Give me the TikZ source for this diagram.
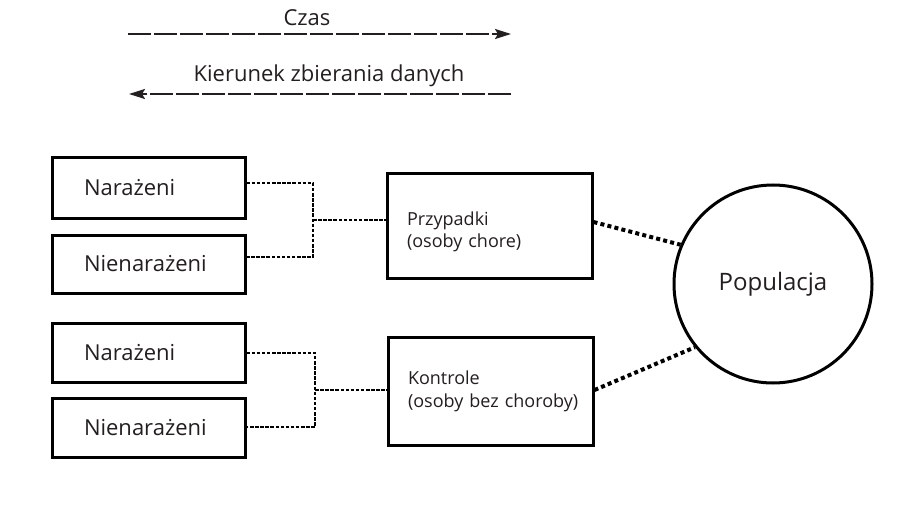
\documentclass[tikz,border=0pt]{standalone}
\usepackage{fontspec}
\setmainfont{Open Sans}
\usetikzlibrary{arrows.meta}

\definecolor{ink}{HTML}{231F20}

\tikzset{
  timeline/.style={line width=2pt, draw=ink, dash pattern=on 23pt off 3pt,
    -{Stealth[length=16pt,width=10pt,inset=3pt]}},
  caption/.style={font=\fontsize{22}{26}\selectfont, text=ink, inner sep=0pt},
  groupbox/.style={draw, line width=3pt, minimum width=193pt, minimum height=59pt,
    text width=129pt, align=left, inner xsep=32pt, inner ysep=0pt,
    font=\fontsize{22}{26}\selectfont, text=ink},
  studybox/.style={draw, line width=3pt, minimum width=205pt,
    text width=165pt, align=left, inner xsep=20pt, inner ysep=0pt,
    font=\fontsize{18}{23}\selectfont, text=ink},
  bracket/.style={line width=1.8pt, dash pattern=on 3.5pt off 1.6pt},
  link/.style={line width=4pt, dash pattern=on 4pt off 3.2pt},
}

\begin{document}
\begin{tikzpicture}[x=1pt, y=-1pt]
\useasboundingbox[fill=white] (0,0) rectangle (913,508);

% time axis and direction of data collection
\node[caption] (czas) at (307,18) {Czas};
\coordinate (t0) at (128,34);
\coordinate (t1) at (511,34);
\draw[timeline] (t0) -- (t1);

\node[caption] (kier) at (329,76) {Kierunek zbierania danych};
\coordinate (k0) at (511,94);
\coordinate (k1) at (129,94);
\draw[timeline] (k0) -- (k1);

% exposure groups
\node[groupbox, minimum height=60pt] (b1) at (148.5,188) {Narażeni};
\node[groupbox, minimum height=58pt] (b2) at (148.5,264) {Nienarażeni};
\node[groupbox] (b3) at (148.5,352.5) {Narażeni};
\node[groupbox] (b4) at (148.5,427.5) {Nienarażeni};

% cases and controls
\node[studybox, minimum height=105pt] (cases) at (489.5,225.5)
  {\rule{0pt}{27pt}Przypadki\\[-1pt](osoby chore)};
\node[studybox, minimum height=108pt] (controls) at (490.5,391)
  {Kontrole\\\mbox{(osoby bez choroby)}};

% population
\node[draw, circle, line width=3pt, minimum size=198pt, inner sep=0pt,
  font=\fontsize{24}{28}\selectfont, text=ink] (pop) at (773,284) {Populacja};

% brackets joining the groups
\coordinate (j1) at (313,220);
\draw[bracket] ([yshift=5pt]b1.east) -| (j1) |- ([yshift=7pt]b2.east);
\draw[bracket] (j1) -- (j1 -| cases.west);

\coordinate (j2) at (315,390);
\draw[bracket] ([yshift=-0.5pt]b3.east) -| (j2) |- ([yshift=0.5pt]b4.east);
\draw[bracket] (j2) -- (j2 -| controls.west);

% links to the population
\draw[link] ([yshift=3.5pt]cases.east) -- (pop.157);
\draw[link] ([yshift=1pt]controls.east) -- (pop.219);
\end{tikzpicture}
\end{document}
